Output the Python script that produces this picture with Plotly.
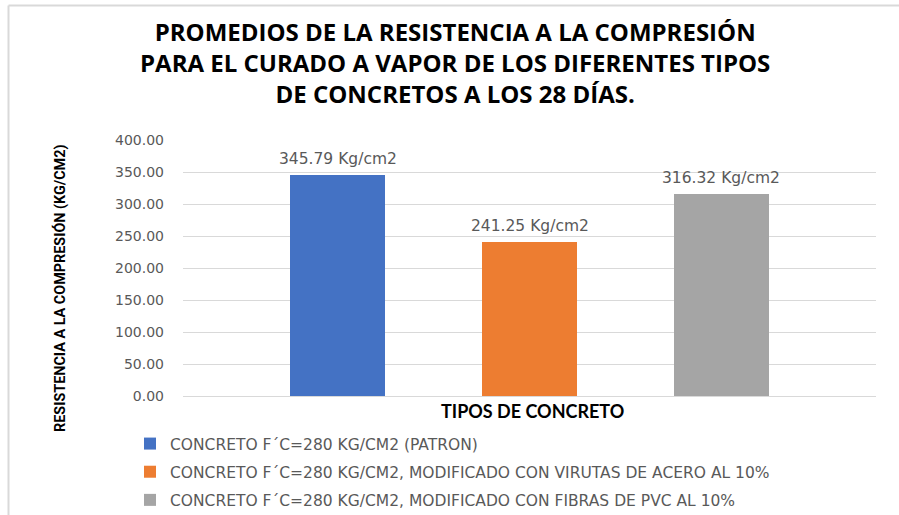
import plotly.graph_objects as go

# Average 28-day compressive strength, steam curing
series_names = [
    "CONCRETO F´C=280 KG/CM2 (PATRON)",
    "CONCRETO F´C=280 KG/CM2, MODIFICADO CON VIRUTAS DE ACERO AL 10%",
    "CONCRETO F´C=280 KG/CM2, MODIFICADO CON FIBRAS DE PVC AL 10%",
]
strength_values = [345.79, 241.25, 316.32]
value_labels = ["345.79 Kg/cm2", "241.25 Kg/cm2", "316.32 Kg/cm2"]
series_colors = ["#4472C4", "#ED7D31", "#A5A5A5"]
y_ticks = [0, 50, 100, 150, 200, 250, 300, 350, 400]
y_tick_text = [f"{v:.2f}" for v in y_ticks]

W, H = 899, 515
L, R, T, B = 183, 23, 140, 119
pw, ph = W - L - R, H - T - B

def px_x(p):
    return (p - L) / pw

def px_y(p):
    return (H - B - p) / ph

TEXT_GREY = "#595959"
SMALL_FONT = "'DejaVu Sans', sans-serif"

fig = go.Figure()
for i, (name, val, col) in enumerate(zip(series_names, strength_values, series_colors)):
    fig.add_trace(go.Bar(
        x=[name], y=[val], name=name,
        marker=dict(color=col, line=dict(width=0)),
        width=0.495,
        legendgroup=f"g{i}",
    ))

# value labels sitting above each bar
label_annotations = [
    dict(x=name, y=val, xref="x", yref="y", text=lab, showarrow=False,
         xanchor="center", yanchor="bottom", yshift=5,
         font=dict(family=SMALL_FONT, size=15.5, color=TEXT_GREY))
    for name, val, lab in zip(series_names, strength_values, value_labels)
]

fig.update_layout(
    width=W, height=H, autosize=False,
    margin=dict(l=L, r=R, t=T, b=B, autoexpand=False),
    paper_bgcolor="white", plot_bgcolor="white",
    showlegend=True,
    bargap=0,
    xaxis=dict(
        type="category", categoryorder="array", categoryarray=series_names,
        range=[-0.805, 2.805], showticklabels=False, showgrid=False,
        zeroline=False, showline=False, ticks="",
    ),
    yaxis=dict(
        range=[0, 400], tickvals=y_ticks, ticktext=y_tick_text,
        showgrid=True, gridcolor="#D9D9D9", gridwidth=1.3,
        zeroline=True, zerolinecolor="#D9D9D9", zerolinewidth=1.3,
        showline=False, ticks="", ticklabelstandoff=18,
        tickfont=dict(family=SMALL_FONT, size=14, color=TEXT_GREY),
    ),
    legend=dict(
        x=px_x(130), y=px_y(427), xanchor="left", yanchor="top",
        orientation="v", tracegroupgap=5,
        font=dict(family=SMALL_FONT, size=15.5, color=TEXT_GREY),
        bgcolor="rgba(0,0,0,0)", itemwidth=30,
    ),
    annotations=label_annotations + [
        dict(text="<b>PROMEDIOS DE LA RESISTENCIA A LA COMPRESIÓN<br>"
                  "PARA EL CURADO A VAPOR DE LOS DIFERENTES TIPOS<br>"
                  "DE CONCRETOS A LOS 28 DÍAS.</b>",
             x=px_x(455), y=px_y(62), xref="paper", yref="paper",
             showarrow=False, xanchor="center", yanchor="middle", align="center",
             font=dict(family="'Open Sans', sans-serif", size=24, color="#000000")),
        dict(text="<b>RESISTENCIA A LA COMPRESIÓN (KG/CM2)</b>",
             x=px_x(60), y=px_y(288), xref="paper", yref="paper",
             textangle=-90, showarrow=False, xanchor="center", yanchor="middle",
             font=dict(family="'Liberation Sans Narrow', 'Roboto', sans-serif", size=14.4, color="#000000")),
        dict(text="<b>TIPOS DE CONCRETO</b>",
             x=px_x(532), y=px_y(411), xref="paper", yref="paper",
             showarrow=False, xanchor="center", yanchor="middle",
             font=dict(family="Lato, sans-serif", size=18, color="#000000")),
    ],
    shapes=[
        dict(type="line", xref="paper", yref="paper",
             x0=px_x(8.5), x1=px_x(W), y0=px_y(5.5), y1=px_y(5.5),
             line=dict(color="#D9D9D9", width=2)),
        dict(type="line", xref="paper", yref="paper",
             x0=px_x(8.5), x1=px_x(8.5), y0=px_y(5.5), y1=px_y(H),
             line=dict(color="#D9D9D9", width=2)),
    ],
)

fig.write_html("out.html")
